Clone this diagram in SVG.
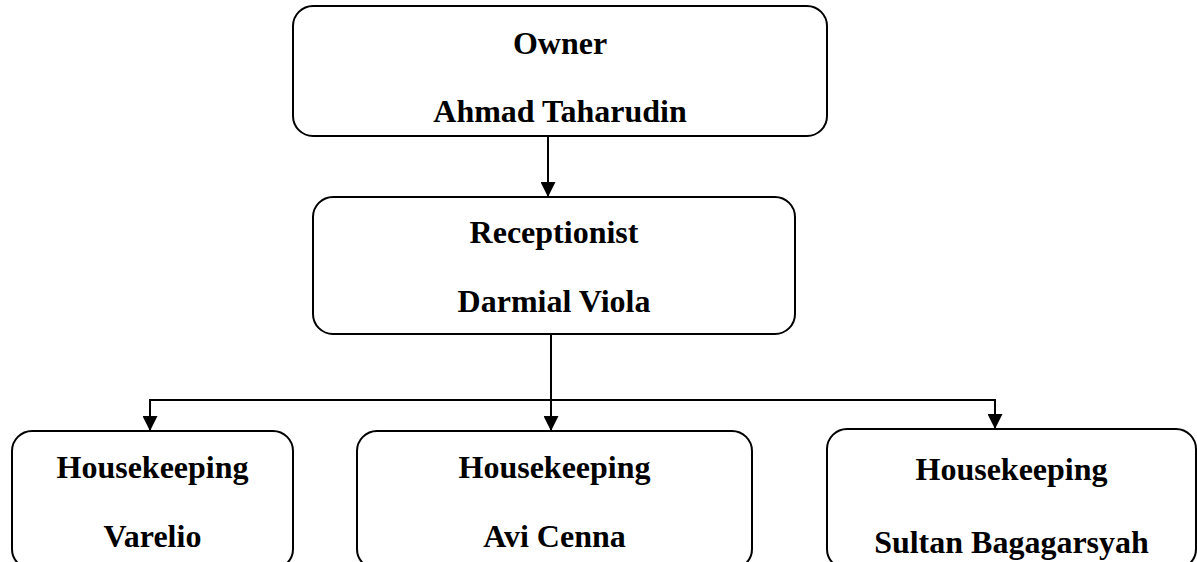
<svg xmlns="http://www.w3.org/2000/svg" width="1197" height="562" viewBox="0 0 1197 562">
  <style>
    .box { fill: #ffffff; stroke: #000000; stroke-width: 2; }
    .lbl { font-family: "Liberation Serif", "Times New Roman", serif; font-weight: bold; font-size: 32px; fill: #000000; text-anchor: middle; }
    .conn { fill: none; stroke: #000000; stroke-width: 2; }
  </style>
  <defs>
    <marker id="arrow" viewBox="0 0 16 16" refX="16" refY="8" markerWidth="16" markerHeight="15" markerUnits="userSpaceOnUse" orient="auto">
      <path d="M0,0 L16,8 L0,16 z" fill="#000000"/>
    </marker>
  </defs>
  <rect width="1197" height="562" fill="#ffffff"/>

  <g id="connectors">
    <line class="conn" x1="548" y1="136" x2="548" y2="197" marker-end="url(#arrow)"/>
    <line class="conn" x1="551" y1="334" x2="551" y2="431" marker-end="url(#arrow)"/>
    <polyline class="conn" points="150,431 150,400 995,400 995,429"/>
    <line class="conn" x1="150" y1="400" x2="150" y2="431" marker-end="url(#arrow)"/>
    <line class="conn" x1="995" y1="400" x2="995" y2="429" marker-end="url(#arrow)"/>
  </g>

  <g id="owner">
    <rect class="box" x="293" y="6" width="534" height="130" rx="20" ry="20"/>
    <text class="lbl" x="560" y="54">Owner</text>
    <text class="lbl" x="560" y="122">Ahmad Taharudin</text>
  </g>

  <g id="receptionist">
    <rect class="box" x="313" y="197" width="482" height="137" rx="20" ry="20"/>
    <text class="lbl" x="554" y="243">Receptionist</text>
    <text class="lbl" x="554" y="312">Darmial Viola</text>
  </g>

  <g id="housekeeping-varelio">
    <rect class="box" x="12" y="431" width="281" height="138" rx="20" ry="20"/>
    <text class="lbl" x="152.5" y="478">Housekeeping</text>
    <text class="lbl" x="152.5" y="547">Varelio</text>
  </g>

  <g id="housekeeping-avi">
    <rect class="box" x="357" y="431" width="395" height="138" rx="20" ry="20"/>
    <text class="lbl" x="554.5" y="478">Housekeeping</text>
    <text class="lbl" x="554.5" y="547">Avi Cenna</text>
  </g>

  <g id="housekeeping-sultan">
    <rect class="box" x="827" y="429" width="369" height="140" rx="20" ry="20"/>
    <text class="lbl" x="1011.5" y="480">Housekeeping</text>
    <text class="lbl" x="1011.5" y="553">Sultan Bagagarsyah</text>
  </g>
</svg>
